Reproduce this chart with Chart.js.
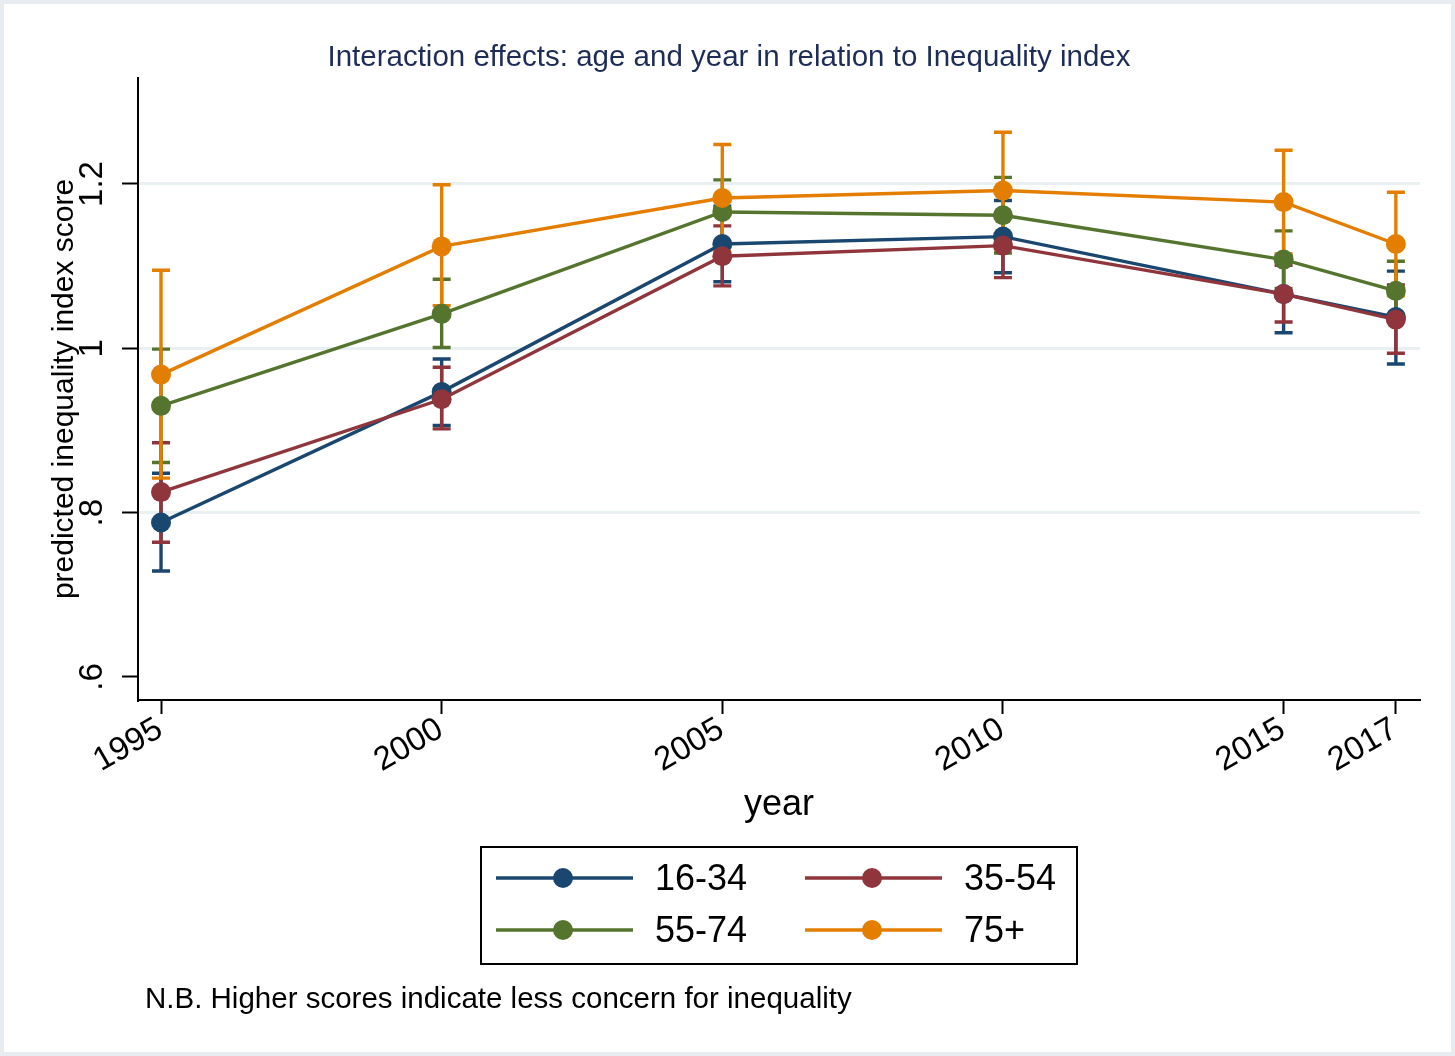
<!DOCTYPE html>
<html>
<head>
<meta charset="utf-8">
<script src="https://cdn.jsdelivr.net/npm/chart.js@4/dist/chart.umd.min.js"></script>
<style>
  html, body { margin: 0; padding: 0; background: #ffffff; }
  canvas { display: block; }
</style>
</head>
<body>
<canvas id="chart" width="1455" height="1056"></canvas>
<script>
// Survey years on the x axis
const years = [1995, 2000, 2005, 2010, 2015, 2017];

// Age groups
const groups = ['16-34', '35-54', '55-74', '75+'];

// Predicted inequality index score (margins) and 95% CI bounds per age group
const mean_16_34 = [0.788, 0.947, 1.127, 1.136, 1.066, 1.038];
const lo_16_34   = [0.729, 0.906, 1.081, 1.092, 1.019, 0.981];
const hi_16_34   = [0.848, 0.987, 1.173, 1.180, 1.113, 1.094];

const mean_35_54 = [0.825, 0.938, 1.112, 1.125, 1.066, 1.035];
const lo_35_54   = [0.764, 0.902, 1.076, 1.086, 1.032, 0.994];
const hi_35_54   = [0.885, 0.977, 1.149, 1.164, 1.101, 1.077];

const mean_55_74 = [0.930, 1.042, 1.166, 1.162, 1.108, 1.070];
const lo_55_74   = [0.861, 1.001, 1.127, 1.116, 1.073, 1.034];
const hi_55_74   = [0.999, 1.084, 1.205, 1.208, 1.143, 1.106];

const mean_75    = [0.968, 1.124, 1.183, 1.192, 1.178, 1.127];
const lo_75      = [0.842, 1.052, 1.118, 1.121, 1.115, 1.064];
const hi_75      = [1.095, 1.199, 1.248, 1.263, 1.241, 1.190];

// Y axis tick values and their labels
const yTicks = [0.6, 0.8, 1.0, 1.2];
const yTickLabels = ['.6', '.8', '1', '1.2'];

const colors = ['#1a476f', '#90353b', '#55752f', '#e37e00'];
const means = [mean_16_34, mean_35_54, mean_55_74, mean_75];
const lows  = [lo_16_34, lo_35_54, lo_55_74, lo_75];
const highs = [hi_16_34, hi_35_54, hi_55_74, hi_75];

const FONT = "'Liberation Sans', Arial, Helvetica, sans-serif";
const LINE_W = 3.4;

// Confidence-interval caps, drawn beneath the connected lines
const ciPlugin = {
  id: 'ciCaps',
  beforeDatasetsDraw(chart) {
    const { ctx, scales: { x, y } } = chart;
    ctx.save();
    ctx.lineWidth = LINE_W;
    ctx.lineCap = 'butt';
    groups.forEach((g, k) => {
      ctx.strokeStyle = colors[k];
      years.forEach((yr, i) => {
        const px = x.getPixelForValue(yr);
        const pl = y.getPixelForValue(lows[k][i]);
        const ph = y.getPixelForValue(highs[k][i]);
        ctx.beginPath();
        ctx.moveTo(px, pl); ctx.lineTo(px, ph);
        ctx.moveTo(px - 9, pl); ctx.lineTo(px + 9, pl);
        ctx.moveTo(px - 9, ph); ctx.lineTo(px + 9, ph);
        ctx.stroke();
      });
    });
    ctx.restore();
  }
};

// Titles, tick labels, legend and note
const textPlugin = {
  id: 'texts',
  beforeDraw(chart) {
    const { ctx, width, height } = chart;
    ctx.save();
    ctx.fillStyle = '#ffffff';
    ctx.fillRect(0, 0, width, height);
    ctx.strokeStyle = '#e6ecef';
    ctx.lineWidth = 4;
    ctx.strokeRect(2, 2, width - 4, height - 4);
    ctx.restore();
  },
  afterDraw(chart) {
    const { ctx, chartArea, scales: { x, y } } = chart;
    ctx.save();

    // chart title
    ctx.fillStyle = '#1e2d58';
    ctx.font = `29.5px ${FONT}`;
    ctx.textAlign = 'center';
    ctx.textBaseline = 'alphabetic';
    ctx.fillText('Interaction effects: age and year in relation to Inequality index', 729, 66);

    ctx.fillStyle = '#000000';

    // y tick labels, rotated
    ctx.font = `33px ${FONT}`;
    yTicks.forEach((v, i) => {
      const py = y.getPixelForValue(v);
      ctx.save();
      ctx.translate(102, py);
      ctx.rotate(-Math.PI / 2);
      ctx.textAlign = 'center';
      ctx.textBaseline = 'alphabetic';
      ctx.fillText(yTickLabels[i], 0, 0);
      ctx.restore();
    });

    // y axis title
    ctx.font = `30px ${FONT}`;
    ctx.save();
    ctx.translate(73, (chartArea.top + chartArea.bottom) / 2);
    ctx.rotate(-Math.PI / 2);
    ctx.textAlign = 'center';
    ctx.textBaseline = 'alphabetic';
    ctx.fillText('predicted inequality index score', 0, 0);
    ctx.restore();

    // x tick labels, angled
    ctx.font = `33px ${FONT}`;
    years.forEach((yr) => {
      const px = x.getPixelForValue(yr);
      ctx.save();
      ctx.translate(px - 1, chartArea.bottom + 27);
      ctx.rotate(-Math.PI / 6);
      ctx.textAlign = 'right';
      ctx.textBaseline = 'middle';
      ctx.fillText(String(yr), 0, 0);
      ctx.restore();
    });

    // x axis title
    ctx.font = `36px ${FONT}`;
    ctx.textAlign = 'center';
    ctx.textBaseline = 'alphabetic';
    ctx.fillText('year', (chartArea.left + chartArea.right) / 2, 815);

    // legend
    ctx.lineWidth = 2;
    ctx.strokeStyle = '#000000';
    ctx.strokeRect(481, 847, 596, 117);
    const cols = [496, 805];
    const rows = [878, 930];
    groups.forEach((g, k) => {
      const lx = cols[k % 2];
      const ly = rows[Math.floor(k / 2)];
      ctx.strokeStyle = colors[k];
      ctx.lineWidth = LINE_W;
      ctx.beginPath();
      ctx.moveTo(lx, ly); ctx.lineTo(lx + 137, ly);
      ctx.stroke();
      ctx.fillStyle = colors[k];
      ctx.beginPath();
      ctx.arc(lx + 67, ly, 10, 0, Math.PI * 2);
      ctx.fill();
      ctx.fillStyle = '#000000';
      ctx.font = `36px ${FONT}`;
      ctx.textAlign = 'left';
      ctx.textBaseline = 'alphabetic';
      ctx.fillText(g, lx + 159, ly + 12);
    });

    // note
    ctx.font = `29.5px ${FONT}`;
    ctx.textAlign = 'left';
    ctx.fillText('N.B. Higher scores indicate less concern for inequality', 145, 1008);

    ctx.restore();
  }
};

const datasets = groups.map((g, k) => ({
  label: g,
  data: years.map((yr, i) => ({ x: yr, y: means[k][i] })),
  borderColor: colors[k],
  backgroundColor: colors[k],
  borderWidth: LINE_W,
  pointRadius: 10,
  pointHoverRadius: 10,
  pointBorderWidth: 0,
  pointBackgroundColor: colors[k],
  tension: 0,
  fill: false,
  clip: false,
  order: groups.length - k
}));

new Chart(document.getElementById('chart'), {
  type: 'line',
  data: { datasets },
  options: {
    responsive: false,
    animation: false,
    devicePixelRatio: 1,
    layout: { padding: { left: 0, top: 78, right: 35, bottom: 0 } },
    plugins: {
      legend: { display: false },
      title: { display: false },
      tooltip: { enabled: false }
    },
    scales: {
      x: {
        type: 'linear',
        min: 1994.59,
        max: 2017.43,
        afterBuildTicks: (s) => { s.ticks = years.map(v => ({ value: v })); },
        afterFit: (s) => { s.height = 356; },
        ticks: { display: false },
        grid: { drawOnChartArea: false, drawTicks: true, tickLength: 14, tickColor: '#000', tickWidth: 2 },
        border: { display: true, color: '#000', width: 2 }
      },
      y: {
        type: 'linear',
        min: 0.572,
        max: 1.329,
        afterBuildTicks: (s) => { s.ticks = yTicks.map(v => ({ value: v })); },
        afterFit: (s) => { s.width = 138; },
        ticks: { display: false },
        grid: {
          // no grid line at the lowest label, which sits next to the axis
          color: (c) => (c.tick && c.tick.value === yTicks[0] ? 'rgba(0,0,0,0)' : '#e8f0f1'),
          lineWidth: 3, drawTicks: true, tickLength: 16, tickColor: '#000', tickWidth: 2
        },
        border: { display: true, color: '#000', width: 2 }
      }
    }
  },
  plugins: [ciPlugin, textPlugin]
});
</script>
</body>
</html>
